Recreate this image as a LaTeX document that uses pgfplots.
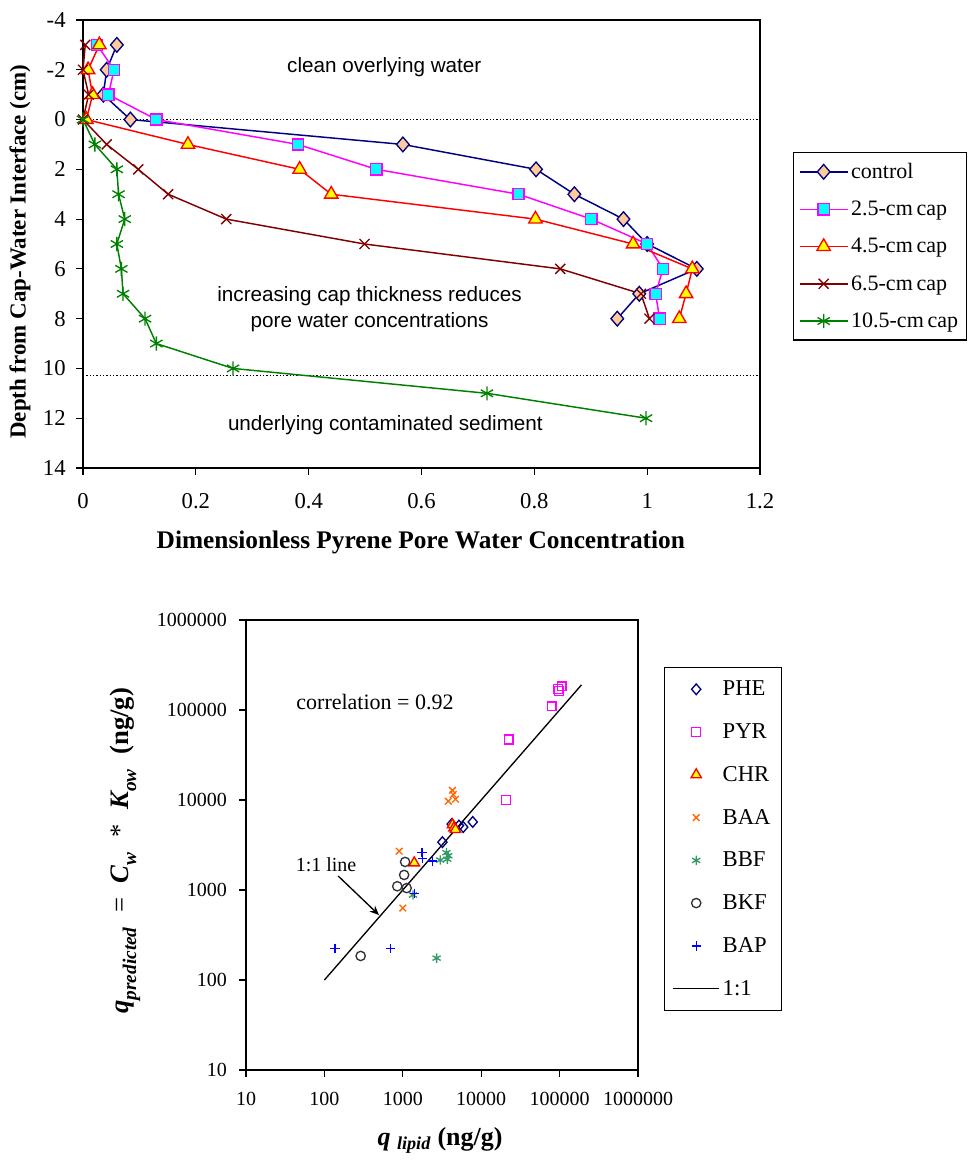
\documentclass[border=0pt]{standalone}
\usepackage{fontspec}
\setmainfont{Liberation Serif}
\newfontfamily\arialfont{Liberation Sans}
\usepackage{pgfplots}
\pgfplotsset{compat=1.18}
\usetikzlibrary{arrows.meta}
\definecolor{navyc}{RGB}{0,0,128}
\definecolor{peach}{RGB}{255,204,153}
\definecolor{magc}{RGB}{255,0,255}
\definecolor{cyanc}{RGB}{0,255,255}
\definecolor{redc}{RGB}{255,0,0}
\definecolor{yellowc}{RGB}{255,255,0}
\definecolor{darkredc}{RGB}{128,0,0}
\definecolor{greenc}{RGB}{0,128,0}
\definecolor{orangec}{RGB}{255,102,0}
\definecolor{seagreenc}{RGB}{51,153,102}
\definecolor{greyc}{RGB}{51,51,51}
\definecolor{bluec}{RGB}{0,0,255}
\newcommand{\sub}[1]{\raisebox{-0.28em}{\fontsize{14.5}{15}\selectfont #1}}
\pgfplotsset{
  toplegimg/.style={legend image code/.code={\draw[mark repeat=2,mark phase=2,##1] plot coordinates {(0cm,0cm) (0.635cm,0cm) (1.27cm,0cm)};}},
  botlegimg/.style={legend image code/.code={\draw[mark repeat=2,mark phase=2,##1] plot coordinates {(0cm,0cm) (0.61cm,0cm) (1.22cm,0cm)};}},
}
\begin{document}
\begin{tikzpicture}
\useasboundingbox (0,0) rectangle (725.25pt,877.5pt);
% ---------------- top chart ----------------
\begin{axis}[
  at={(62.25pt,526.5pt)}, anchor=south west,
  scale only axis, width=507.75pt, height=336pt,
  xmin=0, xmax=1.2, ymin=-4, ymax=14, y dir=reverse,
  xtick={0,0.2,0.4,0.6,0.8,1,1.2},
  ytick={-4,-2,0,2,4,6,8,10,12,14},
  tick align=outside, tick pos=left, major tick length=5pt,
  axis line style={line width=1pt}, every tick/.style={black,line width=0.8pt},
  /pgf/number format/assume math mode=true,
  ticklabel style={font=\fontsize{17}{20}\selectfont},
  xticklabel style={yshift=-10.4pt},
  yticklabel style={xshift=-4.5pt},
  xlabel={\textbf{Dimensionless Pyrene Pore Water Concentration}},
  ylabel={\textbf{Depth from Cap-Water Interface (cm)}},
  xlabel style={font=\fontsize{19}{22}\selectfont, at={(axis description cs:0.499,-0.167)}, anchor=center},
  ylabel style={font=\fontsize{17.2}{22}\selectfont, at={(axis description cs:-0.093,0.483)}, anchor=center},
  clip=false,
  legend style={at={(1.0487,0.7054)}, anchor=north west, draw=black, line width=0.8pt,
    font=\fontsize{16.5}{19}\selectfont, legend cell align=left, row sep=11.5pt,
    inner xsep=4pt, inner ysep=6pt, /tikz/every even column/.append style={column sep=6.5pt}},
  toplegimg,
]
\addplot[black, line width=0.8pt, dash pattern=on 1pt off 1.5pt, forget plot] coordinates {(0,0) (1.2,0)};
\addplot[black, line width=0.8pt, dash pattern=on 1pt off 1.5pt, forget plot] coordinates {(0,10.3) (1.2,10.3)};
\addplot[navyc, line width=1.1pt, mark=diamond*, mark size=5.5pt, mark options={fill=peach, draw=navyc, line width=1pt, solid, xscale=1.15}] coordinates {
(0.060,-3) (0.042,-2) (0.036,-1) (0.084,0) (0.567,1) (0.803,2) (0.871,3) (0.958,4) (1.0,5) (1.088,6) (0.986,7) (0.947,8)};
\addlegendentry{control}
\addplot[magc, line width=1.1pt, mark=square*, mark size=4.2pt, mark options={fill=cyanc, draw=magc, line width=1pt, solid}] coordinates {
(0.025,-3) (0.055,-2) (0.045,-1) (0.130,0) (0.381,1) (0.520,2) (0.772,3) (0.901,4) (1.0,5) (1.028,6) (1.015,7) (1.022,8)};
\addlegendentry{2.5-cm\hspace{0.17em}cap}
\addplot[redc, line width=1.1pt, mark=triangle*, mark size=5.8pt, mark options={fill=yellowc, draw=redc, line width=1pt, solid}] coordinates {
(0.029,-3) (0.009,-2) (0.017,-1) (0.006,0) (0.186,1) (0.384,2) (0.440,3) (0.802,4) (0.975,5) (1.080,6) (1.069,7) (1.057,8)};
\addlegendentry{4.5-cm\hspace{0.17em}cap}
\addplot[darkredc, line width=1.1pt, mark=x, mark size=5.3pt, mark options={line width=1pt, solid}] coordinates {
(0.004,-3) (0.0,-2) (0.010,-1) (0.0,0) (0.042,1) (0.098,2) (0.151,3) (0.254,4) (0.499,5) (0.846,6) (0.989,7) (1.004,8)};
\addlegendentry{6.5-cm\hspace{0.17em}cap}
\addplot[greenc, line width=1.1pt, mark=asterisk, mark size=5.3pt, mark options={line width=1pt, solid}] coordinates {
(0,0) (0.021,1) (0.060,2) (0.063,3) (0.074,4) (0.060,5) (0.068,6) (0.071,7) (0.110,8) (0.130,9) (0.266,10) (0.716,11) (0.998,12)};
\addlegendentry{10.5-cm\hspace{0.17em}cap}
\node[font=\arialfont\fontsize{15.5}{18}\selectfont] at (axis cs:0.534,-2.09) {clean overlying water};
\node[font=\arialfont\fontsize{15.5}{19.5}\selectfont, align=center] at (axis cs:0.508,7.63) {increasing cap thickness reduces\\pore water concentrations};
\node[font=\arialfont\fontsize{15.5}{18}\selectfont] at (axis cs:0.536,12.29) {underlying contaminated sediment};
\end{axis}
% ---------------- bottom chart ----------------
\begin{axis}[
  at={(184.5pt,75pt)}, anchor=south west,
  scale only axis, width=294pt, height=337.5pt,
  xmode=log, ymode=log,
  xmin=10, xmax=1000000, ymin=10, ymax=1000000,
  xtick={10,100,1000,10000,100000,1000000},
  ytick={10,100,1000,10000,100000,1000000},
  xticklabels={10,100,1000,10000,100000,1000000},
  yticklabels={10,100,1000,10000,100000,1000000},
  xminorticks=false, yminorticks=false,
  tick align=outside, tick pos=left, major tick length=5pt,
  axis line style={line width=1pt}, every tick/.style={black,line width=0.8pt},
  ticklabel style={font=\fontsize{15}{18}\selectfont},
  xticklabel style={yshift=-7.75pt},
  yticklabel style={xshift=-5.75pt},
  xlabel={{\bfseries\itshape q \textsubscript{lipid}} \textbf{(ng/g)}},
  ylabel={{\bfseries\itshape q\sub{predicted}}\hspace{6pt} = \hspace{6pt}{\bfseries\itshape C\sub{w}}\hspace{6pt} * \hspace{6pt}{\bfseries\itshape K\sub{ow}}\hspace{6pt} \textbf{(ng/g)}},
  label style={font=\fontsize{20}{22}\selectfont},
  xlabel style={font=\fontsize{19.5}{22}\selectfont, at={(axis description cs:0.495,-0.156)}, anchor=center},
  ylabel style={at={(axis description cs:-0.308,0.487)}, anchor=center},
  clip=false,
  legend style={at={(1.066,0.8956)}, anchor=north west, draw=black, line width=0.8pt,
    font=\fontsize{17}{20}\selectfont, legend cell align=left, row sep=15.4pt,
    inner xsep=6pt, inner ysep=8pt, /tikz/every even column/.append style={column sep=6pt}},
  botlegimg,
]
\addplot[only marks, mark=diamond, mark size=4pt, mark options={draw=navyc, line width=1pt, xscale=1.15}, botlegimg] coordinates {
(3200,3400) (4200,5400) (5200,5200) (5900,5000) (7800,5700)};
\addlegendentry{PHE}
\addplot[only marks, mark=square, mark size=3.3pt, mark options={draw=magc, line width=1pt}, botlegimg] coordinates {
(106000,183000) (98000,162000) (96000,172000) (79000,110000) (22400,47000) (20700,10000)};
\addlegendentry{PYR}
\addplot[only marks, mark=triangle*, mark size=4.5pt, mark options={fill=yellowc, draw=redc, line width=1pt}, botlegimg] coordinates {
(4300,5300) (4500,4900) (4700,4700) (1400,2000)};
\addlegendentry{CHR}
\addplot[only marks, mark=x, mark size=3.5pt, mark options={draw=orangec, line width=1pt}, botlegimg] coordinates {
(4300,12800) (4400,11500) (3800,9700) (4700,10200) (900,2700) (1000,630)};
\addlegendentry{BAA}
\addplot[only marks, mark=asterisk, mark size=3.5pt, mark options={draw=seagreenc, line width=1pt}, botlegimg] coordinates {
(3600,2600) (3800,2400) (3700,2200) (3000,2150) (1350,880) (2700,175)};
\addlegendentry{BBF}
\addplot[only marks, mark=o, mark size=3.5pt, mark options={draw=greyc, line width=1pt}, botlegimg] coordinates {
(1070,2050) (1040,1470) (850,1100) (1120,1050) (290,185)};
\addlegendentry{BKF}
\addplot[only marks, mark=+, mark size=3.5pt, mark options={draw=bluec, line width=1pt}, botlegimg] coordinates {
(1750,2600) (1800,2250) (2400,2100) (1400,920) (137,225) (690,225)};
\addlegendentry{BAP}
\addplot[black, line width=1pt, no marks, botlegimg] coordinates {(100,100) (190000,190000)};
\addlegendentry{1:1}
\node[font=\fontsize{16.5}{20}\selectfont] at (axis cs:442,123000) {correlation = 0.92};
\node[font=\fontsize{15}{18}\selectfont] at (axis cs:105,1900) {1:1 line};
\draw[-{Stealth[length=7pt,width=6pt]}, line width=1pt] (axis cs:150,1430) -- (axis cs:497,527);
\end{axis}
\end{tikzpicture}
\end{document}
